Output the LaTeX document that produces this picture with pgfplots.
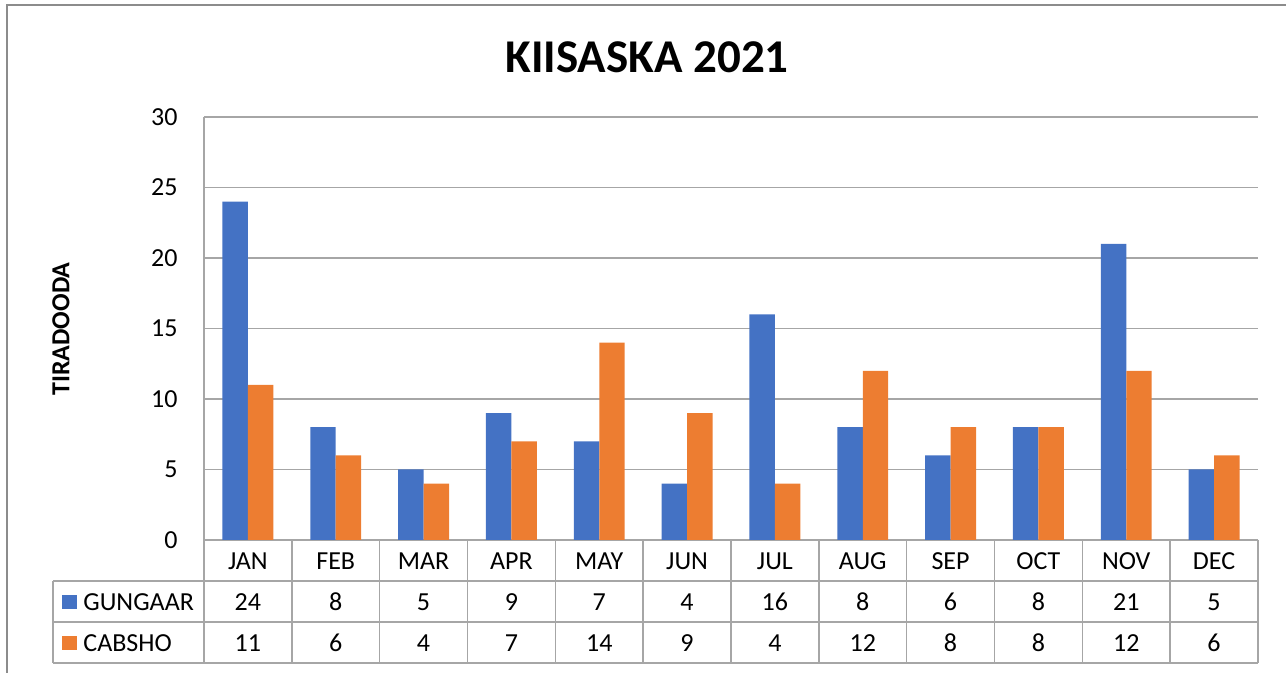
\documentclass[border=0pt]{standalone}
\usepackage{pgfplots}
\pgfplotsset{compat=1.18}
\usepackage{pgfplotstable}
\usepackage{fontspec}
\setmainfont{Carlito}
\definecolor{gblue}{HTML}{4472C4}
\definecolor{corange}{HTML}{ED7D31}
\definecolor{gridgray}{HTML}{A6A6A6}
\definecolor{framegray}{HTML}{8C8C8C}
\newcommand{\tbl}{\fontsize{13}{16}\selectfont}

% month, GUNGAAR, CABSHO
\pgfplotstableread{
x m g c
0 JAN 24 11
1 FEB 8 6
2 MAR 5 4
3 APR 9 7
4 MAY 7 14
5 JUN 4 9
6 JUL 16 4
7 AUG 8 12
8 SEP 6 8
9 OCT 8 8
10 NOV 21 12
11 DEC 5 6
}\data

\begin{document}
\begin{tikzpicture}
\begin{axis}[
    scale only axis,
    width=527pt, height=211.5pt,
    xmin=-0.5, xmax=11.5, ymin=0, ymax=30,
    xtick=\empty, ytick={0,5,...,30},
    axis line style={draw=none},
    major tick length=0pt,
    ymajorgrids,
    grid style={gridgray, line width=0.8pt},
    yticklabel style={anchor=east, inner sep=0pt, xshift=-13pt, font=\tbl},
    /pgf/number format/assume math mode=true,
    clip=false,
]
\addplot[ybar, bar width=0.29, bar shift=-0.145, fill=gblue, draw=none] table[x=x, y=g] {\data};
\addplot[ybar, bar width=0.29, bar shift=0.145, fill=corange, draw=none] table[x=x, y=c] {\data};
\end{axis}

% pixel grid of the reference: (204,540) is the axis origin
\begin{scope}[shift={(-102pt,270pt)}, x=0.5pt, y=-0.5pt]
  \useasboundingbox (0,0) rectangle (1286,673);
  \draw[framegray, line width=1pt] (7,673) -- (7,5) -- (1286,5);

  \node[font=\bfseries\fontsize{23.5}{28}\selectfont] at (647,57) {KIISASKA 2021};
  \node[rotate=90, font=\bfseries\tbl] at (61,329) {TIRADOODA};

  % data table
  \begin{scope}[gridgray, line width=0.8pt]
    \draw (204,117) -- (204,663);
    \draw (53,581) -- (1258,581);
    \draw (53,622) -- (1258,622);
    \draw (53,663) -- (1258,663);
    \draw (53,581) -- (53,663);
    \foreach \k in {1,...,12}
      \draw ({204+87.833*\k},540) -- ({204+87.833*\k},663);
  \end{scope}

  \fill[gblue] (62,595) rectangle (77,609);
  \node[anchor=west, inner sep=0pt, font=\tbl] at (83,602) {GUNGAAR};
  \fill[corange] (62,636) rectangle (77,650);
  \node[anchor=west, inner sep=0pt, font=\tbl] at (83,643) {CABSHO};

  \foreach \i in {0,...,11}{
    \pgfplotstablegetelem{\i}{m}\of\data
    \node[font=\tbl] at ({204+87.833*(\i+0.5)},561) {\pgfplotsretval};
    \pgfplotstablegetelem{\i}{g}\of\data
    \node[font=\tbl] at ({204+87.833*(\i+0.5)},602) {\pgfplotsretval};
    \pgfplotstablegetelem{\i}{c}\of\data
    \node[font=\tbl] at ({204+87.833*(\i+0.5)},643) {\pgfplotsretval};
  }
\end{scope}
\end{tikzpicture}
\end{document}
